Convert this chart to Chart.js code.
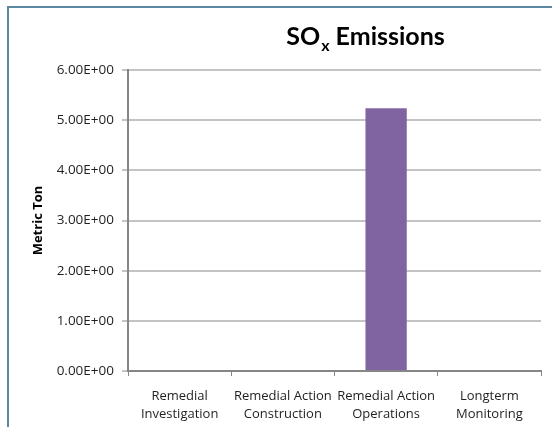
<!DOCTYPE html>
<html>
<head>
<meta charset="utf-8">
<style>
  html, body { margin: 0; padding: 0; background: #ffffff; }
  #wrap { position: relative; width: 552px; height: 427px; }
  canvas { display: block; }
</style>
<script src="https://cdn.jsdelivr.net/npm/chart.js@4/dist/chart.umd.min.js"></script>
</head>
<body>
<div id="wrap"><canvas id="chart" width="552" height="427"></canvas></div>
<script>
// Project phases (two-line labels)
const categories = [
  ['Remedial', 'Investigation'],
  ['Remedial Action', 'Construction'],
  ['Remedial Action', 'Operations'],
  ['Longterm', 'Monitoring']
];
// SOx emitted per phase, metric tons
const soxValues = [0, 0, 5.24, 0];
// Value axis
const yMin = 0;
const yMax = 6;
const yStep = 1;

const TITLE_FONT = 'Lato, "Open Sans", sans-serif';
const FONT = '"Open Sans", "DejaVu Sans", sans-serif';

// Excel-style scientific label: 5.00E+00
function sci(v) {
  if (v === 0) return '0.00E+00';
  const e = Math.floor(Math.log10(Math.abs(v)));
  const m = v / Math.pow(10, e);
  const sign = e < 0 ? '-' : '+';
  const ex = String(Math.abs(e)).padStart(2, '0');
  return m.toFixed(2) + 'E' + sign + ex;
}

// Frame lines along the top and left edge, plus the title with subscript x
const decor = {
  id: 'decor',
  afterDraw(chart) {
    const ctx = chart.ctx;
    ctx.save();
    ctx.strokeStyle = '#5B87A3';
    ctx.lineWidth = 2;
    ctx.beginPath();
    ctx.moveTo(8, 427);
    ctx.lineTo(8, 7);
    ctx.lineTo(552, 7);
    ctx.stroke();

    const big = 'bold 25px ' + TITLE_FONT;
    const small = 'bold 16px ' + TITLE_FONT;
    const p1 = 'SO', p2 = 'x', p3 = ' Emissions';
    ctx.font = big; const w1 = ctx.measureText(p1).width; const w3 = ctx.measureText(p3).width;
    ctx.font = small; const w2 = ctx.measureText(p2).width;
    const total = w1 + w2 + w3;
    const cx = 365;
    let x = cx - total / 2;
    const base = 45;
    ctx.fillStyle = '#000000';
    ctx.textBaseline = 'alphabetic';
    ctx.textAlign = 'left';
    ctx.font = big; ctx.fillText(p1, x, base); x += w1 + 1;
    ctx.font = small; ctx.fillText(p2, x, base + 6); x += w2;
    ctx.font = big; ctx.fillText(p3, x, base);
    ctx.restore();
  }
};

new Chart(document.getElementById('chart'), {
  type: 'bar',
  data: {
    labels: categories,
    datasets: [{
      label: 'SOx Emissions',
      data: soxValues,
      backgroundColor: '#8064A2',
      borderWidth: 0,
      categoryPercentage: 0.4,
      barPercentage: 1.0
    }]
  },
  options: {
    responsive: false,
    animation: false,
    devicePixelRatio: 1,
    layout: { padding: { top: 70, right: 11, left: 10, bottom: 0 } },
    plugins: {
      legend: { display: false },
      title: { display: false },
      tooltip: { enabled: false }
    },
    scales: {
      x: {
        grid: {
          drawOnChartArea: false,
          drawTicks: true,
          tickLength: 5,
          color: '#868686',
          offset: true
        },
        border: { color: '#868686', width: 2 },
        ticks: {
          color: '#1F1F1F',
          font: { family: FONT, size: 13, lineHeight: 1.35 },
          maxRotation: 0,
          autoSkip: false,
          padding: 12
        },
        afterFit(scale) { scale.height = 56; }
      },
      y: {
        min: yMin,
        max: yMax,
        ticks: {
          stepSize: yStep,
          color: '#1F1F1F',
          font: { family: FONT, size: 13.5 },
          padding: 8,
          callback: (v) => sci(v)
        },
        grid: {
          color: '#C4C4C4',
          lineWidth: 2,
          drawTicks: true,
          tickLength: 6
        },
        border: { color: '#868686', width: 2 },
        title: {
          display: true,
          text: 'Metric Ton',
          color: '#000000',
          font: { family: FONT, size: 13, weight: 'bold' },
          padding: { top: 20, bottom: 0 }
        },
        afterFit(scale) { scale.width = 118; }
      }
    }
  },
  plugins: [decor]
});
</script>
</body>
</html>
